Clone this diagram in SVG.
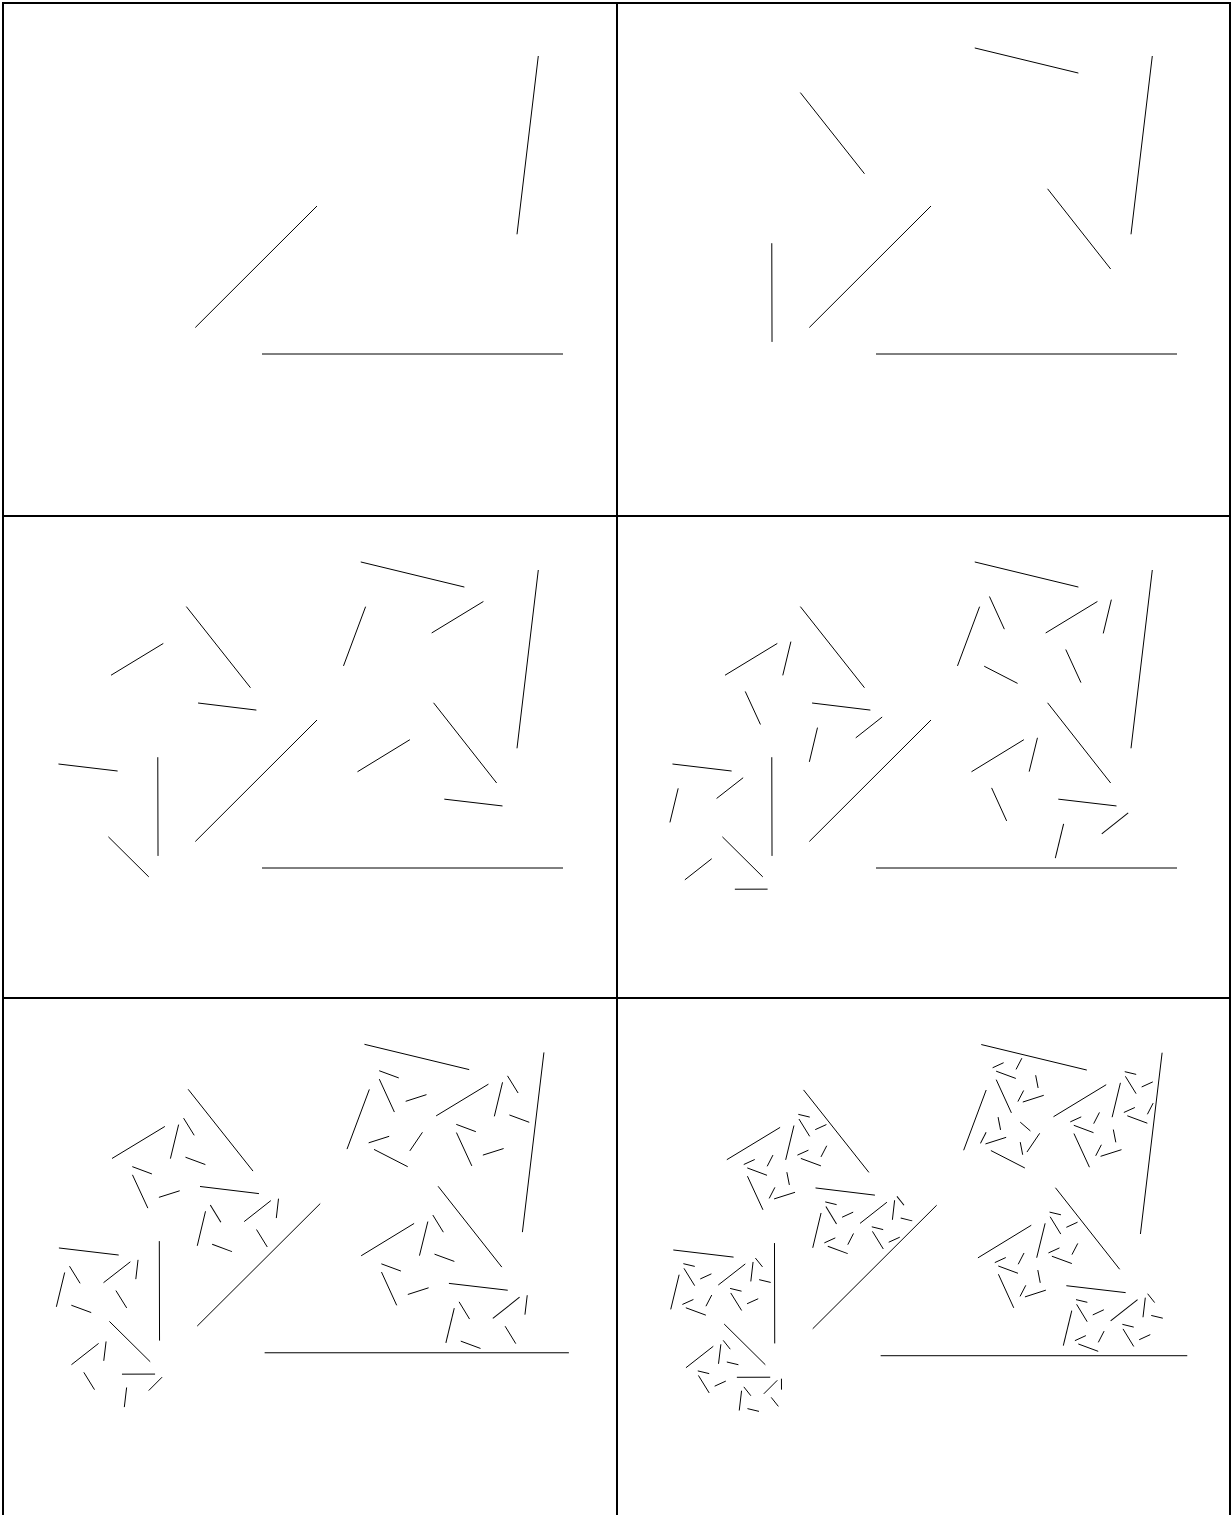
<svg xmlns="http://www.w3.org/2000/svg" xmlns:xlink="http://www.w3.org/1999/xlink" width="1231" height="1515" viewBox="0 0 1231 1515">
<style>
.frame{stroke:#000;stroke-width:2;fill:none}
</style>
<defs>
<line id="lineC" x1="262" y1="354" x2="563" y2="354" stroke="#000" stroke-width="1" vector-effect="non-scaling-stroke"/>
<g id="P0" stroke="#000" stroke-width="1" fill="none">
<line x1="195.3" y1="327.5" x2="317" y2="206" vector-effect="non-scaling-stroke"/>
<line x1="517" y1="234.3" x2="538.3" y2="56" vector-effect="non-scaling-stroke"/>
</g>
<g id="P1"><use href="#P0"/><use href="#P0" transform="matrix(0.4057,-0.4050,0.4083,0.4067,-54.93,287.82)"/><use href="#P0" transform="matrix(0.07056,-0.58871,0.58962,0.07035,289.76,360.93)"/></g>
<g id="P2"><use href="#P0"/><use href="#P1" transform="matrix(0.4057,-0.4050,0.4083,0.4067,-54.93,287.82)"/><use href="#P1" transform="matrix(0.07056,-0.58871,0.58962,0.07035,289.76,360.93)"/></g>
<g id="P3"><use href="#P0"/><use href="#P2" transform="matrix(0.4057,-0.4050,0.4083,0.4067,-54.93,287.82)"/><use href="#P2" transform="matrix(0.07056,-0.58871,0.58962,0.07035,289.76,360.93)"/></g>
<g id="P4"><use href="#P0"/><use href="#P3" transform="matrix(0.4057,-0.4050,0.4083,0.4067,-54.93,287.82)"/><use href="#P3" transform="matrix(0.07056,-0.58871,0.58962,0.07035,289.76,360.93)"/></g>
<g id="P5"><use href="#P0"/><use href="#P4" transform="matrix(0.4057,-0.4050,0.4083,0.4067,-54.93,287.82)"/><use href="#P4" transform="matrix(0.07056,-0.58871,0.58962,0.07035,289.76,360.93)"/></g>
</defs>
<rect width="1231" height="1515" fill="#fff"/>
<g id="frames">
<line class="frame" x1="3" y1="2" x2="3" y2="1515"/>
<line class="frame" x1="2" y1="3" x2="1231" y2="3"/>
<line class="frame" x1="1230" y1="2" x2="1230" y2="1515"/>
<line class="frame" x1="617" y1="2" x2="617" y2="1515"/>
<line class="frame" x1="2" y1="516" x2="1231" y2="516"/>
<line class="frame" x1="2" y1="998" x2="1231" y2="998"/>
</g>
<g id="panel1"><use href="#lineC"/><use href="#P0"/></g>
<g id="panel2" transform="translate(614,0)"><use href="#lineC"/><use href="#P1"/></g>
<g id="panel3" transform="translate(0,514)"><use href="#lineC"/><use href="#P2"/></g>
<g id="panel4" transform="translate(614,514)"><use href="#lineC"/><use href="#P3"/></g>
<g id="panel5" transform="matrix(1.0108,0,0,1.0079,-0.19,995.98)"><use href="#lineC"/><use href="#P4"/></g>
<g id="panel6" transform="matrix(1.0187,0,0,1.0168,613.75,995.77)"><use href="#lineC"/><use href="#P5"/></g>
</svg>
